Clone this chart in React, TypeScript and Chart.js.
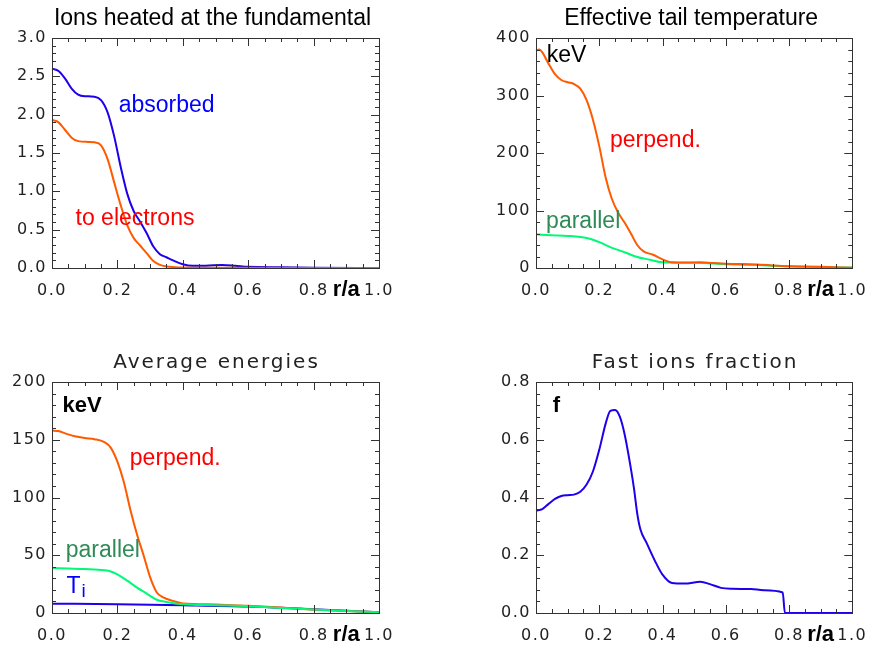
import React, { useEffect, useRef } from 'react';
import { Chart, registerables } from 'chart.js';
Chart.register(...registerables);

// ---------- Data ----------
// Panel 1: Ions heated at the fundamental
const absorbedR = [0, 0.02, 0.04, 0.06, 0.08, 0.10, 0.13, 0.15, 0.17, 0.19, 0.21, 0.23, 0.25, 0.27, 0.29, 0.31, 0.33, 0.35, 0.37, 0.40, 0.43, 0.47, 0.52, 0.56, 0.60, 0.70, 0.80, 1.0];
const absorbedVal = [2.60, 2.57, 2.47, 2.34, 2.26, 2.24, 2.235, 2.19, 2.03, 1.72, 1.32, 0.97, 0.74, 0.60, 0.45, 0.28, 0.18, 0.14, 0.10, 0.05, 0.03, 0.03, 0.04, 0.03, 0.015, 0.01, 0.003, 0];
const electronsR = [0, 0.02, 0.04, 0.06, 0.08, 0.11, 0.13, 0.15, 0.17, 0.19, 0.21, 0.23, 0.25, 0.27, 0.29, 0.31, 0.33, 0.36, 0.40, 0.50, 1.0];
const electronsVal = [1.93, 1.90, 1.80, 1.70, 1.655, 1.645, 1.64, 1.60, 1.42, 1.12, 0.82, 0.56, 0.39, 0.29, 0.19, 0.09, 0.04, 0.015, 0.005, 0.002, 0];

// Panel 2: Effective tail temperature (keV)
const tailPerpR = [0, 0.01, 0.02, 0.04, 0.06, 0.08, 0.10, 0.12, 0.14, 0.16, 0.18, 0.20, 0.22, 0.24, 0.26, 0.28, 0.30, 0.32, 0.34, 0.37, 0.40, 0.43, 0.47, 0.52, 0.56, 0.60, 0.70, 0.80, 0.90, 1.0];
const tailPerpVal = [378, 380, 375, 355, 337, 327, 323, 320, 312, 292, 258, 212, 158, 120, 96, 79, 60, 40, 29, 23, 15, 10, 9.5, 10, 8.5, 7.5, 6, 3, 2, 0.5];
const tailParR = [0, 0.05, 0.10, 0.14, 0.17, 0.20, 0.24, 0.28, 0.32, 0.36, 0.40, 0.50, 0.60, 0.70, 0.80, 0.90, 1.0];
const tailParVal = [58.5, 57, 55.7, 54, 51, 45, 35, 27.5, 19, 14.5, 10, 9, 6.5, 5, 3, 1.8, 0.7];

// Panel 3: Average energies (keV)
const avgPerpR = [0, 0.02, 0.04, 0.07, 0.10, 0.13, 0.16, 0.18, 0.20, 0.22, 0.24, 0.26, 0.28, 0.30, 0.32, 0.34, 0.37, 0.40, 0.50, 0.60, 0.70, 0.80, 0.90, 1.0];
const avgPerpVal = [158, 157.5, 155.5, 153, 151.5, 150.5, 148, 143, 131, 113, 89, 68, 50, 31, 18, 13.5, 10.5, 8.3, 7.4, 6.2, 4.8, 3, 1.8, 0.6];
const avgParR = [0, 0.05, 0.10, 0.16, 0.18, 0.20, 0.23, 0.26, 0.29, 0.32, 0.35, 0.40, 0.50, 0.60, 0.70, 0.80, 0.90, 1.0];
const avgParVal = [39, 38.5, 38, 37, 36, 33.5, 28, 22, 16.8, 11.5, 9.6, 7.6, 6.7, 5.9, 4.4, 3, 1.8, 0.6];
const tiR = [0, 0.2, 0.4, 0.6, 0.7, 0.8, 0.9, 1.0];
const tiVal = [8.1, 7.5, 6.7, 5.6, 4.5, 3.3, 2, 0.6];

// Panel 4: Fast ions fraction
const fracR = [0, 0.02, 0.04, 0.06, 0.08, 0.10, 0.12, 0.14, 0.16, 0.18, 0.20, 0.22, 0.235, 0.25, 0.265, 0.28, 0.30, 0.31, 0.32, 0.33, 0.35, 0.38, 0.40, 0.43, 0.47, 0.52, 0.55, 0.585, 0.62, 0.68, 0.72, 0.78, 0.787, 0.90, 1.0];
const fracVal = [0.355, 0.36, 0.378, 0.395, 0.405, 0.408, 0.41, 0.42, 0.445, 0.49, 0.565, 0.655, 0.70, 0.703, 0.68, 0.62, 0.50, 0.43, 0.345, 0.29, 0.242, 0.172, 0.133, 0.104, 0.102, 0.108, 0.10, 0.087, 0.084, 0.083, 0.079, 0.071, 0, 0, 0];

const xTicks = [0, 0.2, 0.4, 0.6, 0.8, 1.0];

// ---------- Styles ----------
const BLUE = 'rgb(30,0,235)';
const ORANGE = 'rgb(255,90,0)';
const GREEN = 'rgb(0,250,120)';
const LBL_GREEN = 'rgb(46,139,87)';
const LBL_RED = 'rgb(255,0,0)';
const LBL_BLUE = 'rgb(0,0,255)';
const AXIS = '#333';
const ARIAL = '"Liberation Sans", Arial, sans-serif';
const TICKFONT = '"DejaVu Sans", sans-serif';

type Label = { text: string; r: number; v: number; color: string; bold?: boolean; sub?: string };
type Panel = {
  title: string;
  titleHershey: boolean;
  yMax: number;
  yStep: number;
  yDecimals: number;
  series: { r: number[]; v: number[]; color: string }[];
  labels: Label[];
  left: number; top: number; areaLeft: number; areaTop: number; areaRight: number; areaBottom: number;
};

const W = 439, H = 324;

const pts = (r: number[], v: number[]) => r.map((x, i) => ({ x, y: v[i] }));

const panels: Panel[] = [
  {
    title: 'Ions heated at the fundamental', titleHershey: false, yMax: 3, yStep: 0.5, yDecimals: 1,
    series: [
      { r: electronsR, v: electronsVal, color: ORANGE },
      { r: absorbedR, v: absorbedVal, color: BLUE },
    ],
    labels: [
      { text: 'absorbed', r: 0.204, v: 2.12, color: LBL_BLUE },
      { text: 'to electrons', r: 0.072, v: 0.65, color: LBL_RED },
    ],
    left: 0, top: 0, areaLeft: 52, areaTop: 38, areaRight: 379, areaBottom: 268,
  },
  {
    title: 'Effective tail temperature', titleHershey: false, yMax: 400, yStep: 100, yDecimals: 0,
    series: [
      { r: tailPerpR, v: tailPerpVal, color: ORANGE },
      { r: tailParR, v: tailParVal, color: GREEN },
    ],
    labels: [
      { text: 'keV', r: 0.034, v: 370, color: '#000' },
      { text: 'perpend.', r: 0.234, v: 222, color: LBL_RED },
      { text: 'parallel', r: 0.032, v: 80, color: LBL_GREEN },
    ],
    left: 439, top: 0, areaLeft: 97, areaTop: 38, areaRight: 423, areaBottom: 268,
  },
  {
    title: 'Average energies', titleHershey: true, yMax: 200, yStep: 50, yDecimals: 0,
    series: [
      { r: avgParR, v: avgParVal, color: GREEN },
      { r: avgPerpR, v: avgPerpVal, color: ORANGE },
      { r: tiR, v: tiVal, color: BLUE },
    ],
    labels: [
      { text: 'keV', r: 0.032, v: 179, color: '#000', bold: true },
      { text: 'perpend.', r: 0.238, v: 134, color: LBL_RED },
      { text: 'parallel', r: 0.042, v: 54, color: LBL_GREEN },
      { text: 'T', r: 0.044, v: 22.6, color: LBL_BLUE, sub: 'i' },
    ],
    left: 0, top: 324, areaLeft: 52, areaTop: 58, areaRight: 379, areaBottom: 289,
  },
  {
    title: 'Fast ions fraction', titleHershey: true, yMax: 0.8, yStep: 0.2, yDecimals: 1,
    series: [
      { r: fracR, v: fracVal, color: BLUE },
    ],
    labels: [
      { text: 'f', r: 0.053, v: 0.717, color: '#000', bold: true },
    ],
    left: 439, top: 324, areaLeft: 97, areaTop: 58, areaRight: 423, areaBottom: 289,
  },
];

function makeDecor(p: Panel) {
  return {
    id: 'decor',
    beforeDraw(chart: any) {
      chart.ctx.letterSpacing = '1.5px';
    },
    afterDraw(chart: any) {
      const ctx = chart.ctx as CanvasRenderingContext2D;
      const { left, right, top, bottom } = chart.chartArea;
      const xs = chart.scales.x, ys = chart.scales.y;
      ctx.save();
      (ctx as any).letterSpacing = '0px';
      ctx.strokeStyle = AXIS;
      ctx.lineWidth = 1;
      // frame
      ctx.strokeRect(Math.round(left) + 0.5, Math.round(top) + 0.5, Math.round(right - left), Math.round(bottom - top));
      ctx.beginPath();
      // x ticks (inward, top & bottom)
      for (let i = 0; i <= 20; i++) {
        const px = Math.round(xs.getPixelForValue(i * 0.05)) + 0.5;
        const len = i % 4 === 0 ? 8 : 4;
        ctx.moveTo(px, bottom); ctx.lineTo(px, bottom - len);
        ctx.moveTo(px, top); ctx.lineTo(px, top + len);
      }
      // y ticks (inward, left & right)
      const minor = p.yStep / 5;
      const n = Math.round(p.yMax / minor);
      for (let i = 0; i <= n; i++) {
        const py = Math.round(ys.getPixelForValue(i * minor)) + 0.5;
        const len = i % 5 === 0 ? 8 : 4;
        ctx.moveTo(left, py); ctx.lineTo(left + len, py);
        ctx.moveTo(right, py); ctx.lineTo(right - len, py);
      }
      ctx.stroke();

      // title
      ctx.fillStyle = '#000';
      ctx.textAlign = 'center';
      ctx.textBaseline = 'middle';
      if (p.titleHershey) {
        ctx.font = `20px ${TICKFONT}`;
        (ctx as any).letterSpacing = '2px';
        ctx.fillStyle = '#222';
        ctx.fillText(p.title, (left + right) / 2 + 1, top - 19);
        (ctx as any).letterSpacing = '0px';
      } else {
        ctx.font = `23px ${ARIAL}`;
        ctx.fillText(p.title, (left + right) / 2 - 3, top - 19);
      }

      // annotations
      ctx.textAlign = 'left';
      for (const l of p.labels) {
        const x = xs.getPixelForValue(l.r);
        const y = ys.getPixelForValue(l.v);
        ctx.font = `${l.bold ? 'bold 22px' : '23px'} ${ARIAL}`;
        ctx.fillStyle = l.color;
        ctx.fillText(l.text, x, y);
        if (l.sub) {
          const w = ctx.measureText(l.text).width;
          ctx.font = `19px ${ARIAL}`;
          ctx.fillText(l.sub, x + w + 1, y + 5);
        }
      }

      // r/a
      ctx.font = `bold 22px ${ARIAL}`;
      ctx.fillStyle = '#000';
      ctx.textAlign = 'center';
      ctx.fillText('r/a', xs.getPixelForValue(0.9), bottom + 22);
      ctx.restore();
    },
  };
}

function PanelChart({ p }: { p: Panel }) {
  const ref = useRef<HTMLCanvasElement | null>(null);
  useEffect(() => {
    if (!ref.current) return;
    const chart = new Chart(ref.current, {
      type: 'line',
      data: {
        datasets: p.series.map((s) => ({
          data: pts(s.r, s.v),
          borderColor: s.color,
          borderWidth: 2,
          pointRadius: 0,
          fill: false,
          cubicInterpolationMode: 'monotone' as const,
          clip: 5,
        })),
      },
      options: {
        responsive: false,
        animation: false,
        events: [],
        layout: { padding: { left: 0, top: p.areaTop, right: W - p.areaRight, bottom: 0 } },
        plugins: { legend: { display: false }, title: { display: false }, tooltip: { enabled: false } },
        scales: {
          x: {
            type: 'linear', min: 0, max: 1,
            grid: { display: false, drawTicks: false },
            border: { display: false },
            afterFit: (s: any) => { s.height = H - p.areaBottom; },
            afterBuildTicks: (s: any) => { s.ticks = xTicks.map((v) => ({ value: v })); },
            ticks: {
              padding: 13,
              color: '#222',
              font: { family: TICKFONT, size: 16 },
              maxRotation: 0,
              callback: (v: any) => Number(v).toFixed(1),
            },
          },
          y: {
            type: 'linear', min: 0, max: p.yMax,
            grid: { display: false, drawTicks: false },
            border: { display: false },
            afterFit: (s: any) => { s.width = p.areaLeft; },
            ticks: {
              stepSize: p.yStep,
              padding: 5,
              color: '#222',
              font: { family: TICKFONT, size: 16 },
              callback: (v: any) => Number(v).toFixed(p.yDecimals),
            },
          },
        },
      },
      plugins: [makeDecor(p)],
    } as any);
    return () => chart.destroy();
  }, [p]);
  return (
    <canvas
      ref={ref}
      width={W}
      height={H}
      style={{ position: 'absolute', left: p.left, top: p.top, width: W, height: H }}
    />
  );
}

export default function App() {
  return (
    <div style={{ position: 'fixed', left: 0, top: 0, width: 878, height: 648, background: '#fff' }}>
      {panels.map((p, i) => <PanelChart key={i} p={p} />)}
    </div>
  );
}
